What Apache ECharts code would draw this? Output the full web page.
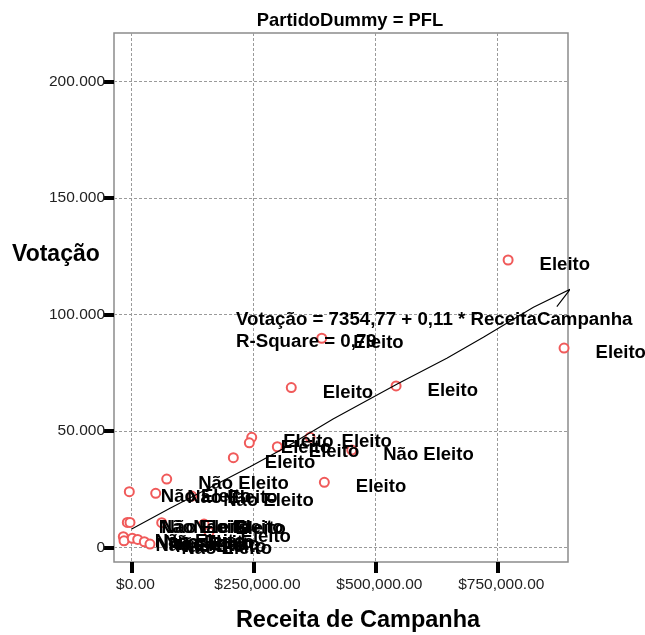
<!DOCTYPE html>
<html><head><meta charset="utf-8">
<script src="https://cdn.jsdelivr.net/npm/echarts@6/dist/echarts.min.js"></script>
<style>html,body{margin:0;padding:0;background:#fff}#c{width:645px;height:635px}</style>
</head><body><div id="c"></div>
<script>
// Receita de Campanha (x) and Votação (y) for PartidoDummy = PFL
const receita = [772200, 886900, 542500, 390100, 327600, 246500, 241600, 208800, 299000, 366100,
  451600, 395400, 72200, -4500, 49600, 123500, -8600, -3100, -16800, -15400,
  1600, 12700, 26300, 37900, 61900, 148700, 159000];
const votacao = [123400, 85600, 69300, 89800, 68600, 47250, 44900, 38500, 43200, 47250,
  41800, 27900, 29300, 23900, 23200, 22000, 10700, 10700, 4550, 2800,
  3900, 3400, 2400, 1400, 10600, 10000, 6600];
const situacao = ['Eleito','Eleito','Eleito','Eleito','Eleito','Eleito','Eleito','Eleito','Eleito','Eleito',
  'Não Eleito','Eleito','Não Eleito','Não Eleito','Não Eleito','Não Eleito','Não Eleito','Não Eleito','Não Eleito','Não Eleito',
  'Não Eleito','Não Eleito','Não Eleito','Não Eleito','Não Eleito','Eleito','Eleito'];
// fitted line as drawn (with arrow hook at the end)
const fitX = [400, 79000, 243000, 318300, 413300, 543900, 646500, 721500, 824100, 899300, 872100];
const fitY = [7860, 16750, 34600, 43200, 55100, 70000, 81200, 90200, 103100, 110800, 103350];
const xTicks = [0, 250000, 500000, 750000];
const yTicks = [0, 50000, 100000, 150000, 200000];
const titleText = 'PartidoDummy = PFL';
const xName = 'Receita de Campanha';
const yName = 'Votação';
const eqLine1 = 'Votação = 7354,77 + 0,11 * ReceitaCampanha';
const eqLine2 = 'R-Square = 0,79';

const FONT = "'Liberation Sans', Arial, sans-serif";
function fmtY(v){ return String(Math.round(v)).replace(/\B(?=(\d{3})+(?!\d))/g, '.'); }
function fmtX(v){ return '$' + Math.round(v).toString().replace(/\B(?=(\d{3})+(?!\d))/g, ',') + '.00'; }

const chart = echarts.init(document.getElementById('c'), null, {renderer: 'canvas'});
const option = {
  animation: false,
  backgroundColor: '#fff',
  grid: {left: 114, top: 33, width: 454, height: 529, show: true, borderColor: '#8c8c8c', borderWidth: 1.5, containLabel: false},
  xAxis: {
    type: 'value', min: -35900, max: 895000,
    axisLine: {show: false, onZero: false},
    axisTick: {show: true, length: 11, customValues: xTicks, lineStyle: {color: '#000', width: 4}},
    axisLabel: {customValues: xTicks, formatter: fmtX, margin: 15, fontSize: 15.5, color: '#222', fontFamily: FONT, padding: [0,0,0,8]},
    splitLine: {show: true, lineStyle: {color: '#9a9a9a', type: [3,2], width: 1}}
  },
  yAxis: {
    type: 'value', min: -6300, max: 220900,
    axisLine: {show: false, onZero: false},
    axisTick: {show: true, length: 10, customValues: yTicks, lineStyle: {color: '#000', width: 4}},
    axisLabel: {customValues: yTicks, formatter: fmtY, margin: 9, fontSize: 15.5, color: '#222', fontFamily: FONT},
    splitLine: {show: true, lineStyle: {color: '#9a9a9a', type: [3,2], width: 1}}
  },
  series: [
    {
      type: 'scatter',
      symbol: 'emptyCircle', symbolSize: 9,
      itemStyle: {color: '#f05a5a', borderColor: '#f05a5a', borderWidth: 1.2, opacity: 1},
      data: receita.map((x, i) => [x, votacao[i], situacao[i]]),
      label: {show: true, position: 'right', distance: 26, offset: [0, 5], formatter: p => p.data[2],
        fontSize: 18.5, fontWeight: 'bold', color: '#000', opacity: 1, fontFamily: FONT},
      emphasis: {disabled: true}, z: 2
    },
    {
      type: 'line', clip: false, symbol: 'none', smooth: false,
      lineStyle: {color: '#000', width: 1.1},
      data: fitX.map((x, i) => [x, fitY[i]]),
      emphasis: {disabled: true}, z: 3
    }
  ],
  graphic: [
    {type: 'text', x: 350, y: 21, style: {text: titleText, font: "bold 18.4px " + FONT, fill: '#000', textAlign: 'center', textVerticalAlign: 'middle'}},
    {type: 'text', x: 12, y: 255, style: {text: yName, font: "bold 23px " + FONT, fill: '#000', textAlign: 'left', textVerticalAlign: 'middle'}},
    {type: 'text', x: 358, y: 621, style: {text: xName, font: "bold 23.5px " + FONT, fill: '#000', textAlign: 'center', textVerticalAlign: 'middle'}},
    {type: 'text', x: 236, y: 320, z: 10, style: {text: eqLine1, font: "bold 18.7px " + FONT, fill: '#000', textAlign: 'left', textVerticalAlign: 'middle'}},
    {type: 'text', x: 236, y: 342, z: 10, style: {text: eqLine2, font: "bold 18.7px " + FONT, fill: '#000', textAlign: 'left', textVerticalAlign: 'middle'}}
  ]
};
chart.setOption(option);
</script>
</body></html>
